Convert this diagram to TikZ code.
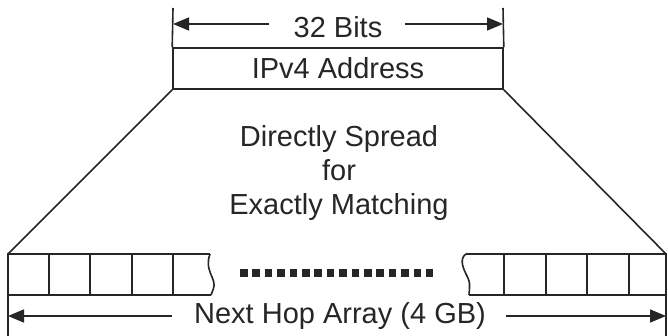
\documentclass[tikz,border=0pt]{standalone}
\usepackage{fontspec}
\setmainfont{Liberation Sans}
\usetikzlibrary{arrows.meta}
\begin{document}
\begin{tikzpicture}[x=1pt,y=-1pt,
  ln/.style={line width=1.6pt,draw=black!85},
  lbl/.style={font=\fontsize{29}{34}\selectfont, inner sep=0pt, text=black!85},
  arr/.style={ln,-{Triangle[length=16pt,width=13pt]}},
  dotsq/.style={line width=7.5pt,dash pattern=on 7.5pt off 4.9pt,draw=black!85}]
\useasboundingbox (0,0) rectangle (668,336);
% top box
\node[ln,draw,minimum width=330pt,minimum height=41pt,inner sep=0pt,lbl] (addr) at (338,68.5) {IPv4 Address};
\coordinate (tlt) at (173,8);
\coordinate (trt) at (503,8);
\draw[ln] (tlt) -- (addr.north west);
\draw[ln] (trt) -- (addr.north east);
\node[lbl] (bits) at (338,27) {32 Bits};
\coordinate (al) at (173,24);
\coordinate (ar) at (503,24);
\draw[arr] ([xshift=-24pt]bits.west |- al) -- (al);
\draw[arr] ([xshift=22pt]bits.east |- ar) -- (ar);
% trapezoid sides
\coordinate (bl) at (8,254);
\coordinate (br) at (666,254);
\draw[ln] (addr.south west) -- (bl);
\draw[ln] (addr.south east) -- (br);
% middle text
\node[lbl,align=center] (mid) at (339,173) {Directly Spread\\for\\Exactly Matching};
% left array part
\draw[ln] (210,254) -- (bl) -- (8,336);
\draw[ln] (8,295) -- (211,295);
\draw[ln] (210,254) .. controls (207,262) and (208,268) .. (212,277) .. controls (215,285) .. (211,295);
\foreach \x in {49,90,132,173} \draw[ln] (\x,254) -- (\x,295);
% right array part
\draw[ln] (466,254) -- (br) -- (666,336);
\draw[ln] (469,295) -- (666,295);
\draw[ln] (466,254) .. controls (460,258) and (462,266) .. (466,274) .. controls (470,282) .. (469,295);
\foreach \x in {504,546,587,629} \draw[ln] (\x,254) -- (\x,295);
% dotted line
\coordinate (d1) at (240,273);
\coordinate (d2) at (433,273);
\draw[dotsq] (d1) -- (d2);
% bottom arrow
\node[lbl] (nha) at (340,316) {Next Hop Array (4 GB)};
\coordinate (bal) at (8,316);
\coordinate (bar) at (666,316);
\draw[arr] ([xshift=-22pt]nha.west |- bal) -- (bal);
\draw[arr] ([xshift=20pt]nha.east |- bar) -- (bar);
\end{tikzpicture}
\end{document}
